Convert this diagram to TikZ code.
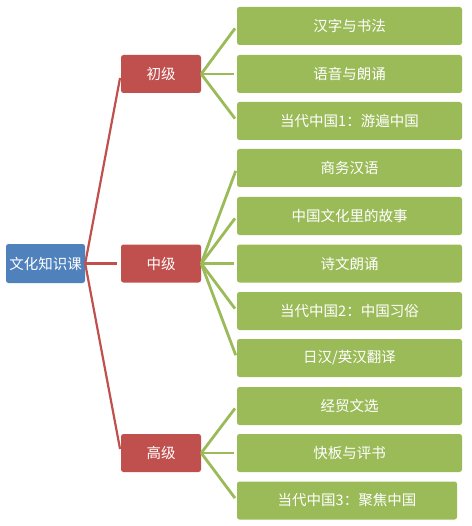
\documentclass[tikz,border=0pt]{standalone}
\usepackage{fontspec}
\setmainfont{Noto Sans CJK SC}
\begin{document}
\begin{tikzpicture}[x=1pt,y=-1pt,
  box/.style={rounded corners=2.5pt, text=white, font=\fontsize{14.5}{17}\selectfont, inner sep=0pt, anchor=center},
  rootbox/.style={box, fill={rgb,255:red,79;green,129;blue,189}, minimum width=79pt, minimum height=39pt},
  levelbox/.style={box, fill={rgb,255:red,192;green,80;blue,77}, minimum width=80pt, minimum height=38pt},
  leafbox/.style={box, fill={rgb,255:red,155;green,187;blue,89}, minimum width=225pt, minimum height=38pt},
  redline/.style={draw={rgb,255:red,192;green,80;blue,77}, line width=2.2pt, shorten >=4pt},
  greenline/.style={draw={rgb,255:red,155;green,187;blue,89}, line width=2.8pt, shorten >=3pt}
]
\useasboundingbox (0,0) rectangle (471,526);
\node[rootbox] (root) at (45.5,263.5) {文化知识课};
\node[levelbox] (l1) at (161,74) {初级};
\node[levelbox] (l2) at (161,263.5) {中级};
\node[levelbox] (l3) at (161,453) {高级};
\node[leafbox] (a1) at (349.5,26) {汉字与书法};
\node[leafbox] (a2) at (349.5,74) {语音与朗诵};
\node[leafbox] (a3) at (349.5,121) {当代中国1：游遍中国};
\node[leafbox] (b1) at (349.5,168) {商务汉语};
\node[leafbox] (b2) at (349.5,216) {中国文化里的故事};
\node[leafbox] (b3) at (349.5,263.5) {诗文朗诵};
\node[leafbox] (b4) at (349.5,311) {当代中国2：中国习俗};
\node[leafbox] (b5) at (349.5,358) {日汉/英汉翻译};
\node[leafbox] (c1) at (349.5,406) {经贸文选};
\node[leafbox] (c2) at (349.5,453) {快板与评书};
\node[leafbox, minimum width=220pt] (c3) at (347,500.5) {当代中国3：聚焦中国};
\foreach \t in {l1,l2,l3} \draw[redline] (root.east) -- (\t.west);
\foreach \t in {a1,a2,a3} \draw[greenline] (l1.east) -- (\t.west);
\foreach \t in {b1,b2,b3,b4,b5} \draw[greenline] (l2.east) -- (\t.west);
\foreach \t in {c1,c2,c3} \draw[greenline] (l3.east) -- (\t.west);
\end{tikzpicture}
\end{document}
